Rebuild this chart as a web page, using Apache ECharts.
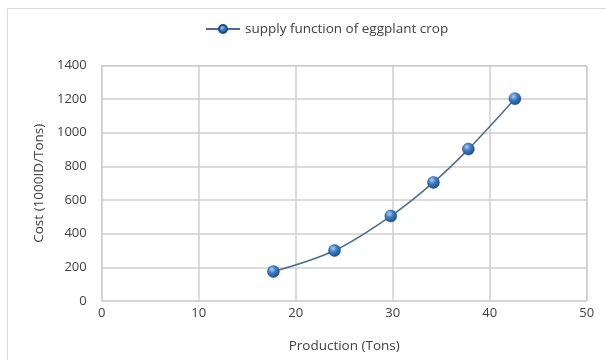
<!DOCTYPE html>
<html><head><meta charset="utf-8">
<script src="https://cdn.jsdelivr.net/npm/echarts@6/dist/echarts.min.js"></script>
<style>html,body{margin:0;padding:0;background:#fff}#c{width:606px;height:360px}</style>
</head><body><div id="c"></div>
<script>
var seriesName = 'supply function of eggplant crop';
var production = [17.7, 24.0, 29.8, 34.2, 37.8, 42.6];
var cost = [175, 300, 505, 705, 903, 1203];
var xTicks = [0, 10, 20, 30, 40, 50];
var yTicks = [0, 200, 400, 600, 800, 1000, 1200, 1400];

var chart = echarts.init(document.getElementById('c'), null, {renderer: 'canvas'});
var font = '"Open Sans", "Liberation Sans", sans-serif';
var ball = {
  type: 'radial', x: 0.38, y: 0.32, r: 0.7,
  colorStops: [{offset: 0, color: '#a9cdf2'}, {offset: 0.45, color: '#3a7cc4'}, {offset: 1, color: '#1d4c86'}]
};
chart.setOption({
  animation: false,
  graphic: [{type: 'rect', shape: {x: 7.5, y: 8.5, width: 610, height: 360}, style: {fill: 'none', stroke: '#d9d9d9', lineWidth: 1}, silent: true}],
  legend: {
    top: 17, left: 200, itemWidth: 34, itemHeight: 10, itemGap: 6,
    textStyle: {fontFamily: font, fontSize: 13.5, color: '#404040'},
    data: [seriesName]
  },
  grid: {left: 101.7, right: 19.3, top: 65.5, bottom: 59, show: true, borderColor: '#bfbfbf', borderWidth: 1},
  xAxis: {
    type: 'value', min: xTicks[0], max: xTicks[xTicks.length - 1], interval: 10,
    name: 'Production (Tons)', nameLocation: 'middle', nameGap: 38,
    nameTextStyle: {fontFamily: font, fontSize: 13.5, color: '#404040'},
    axisLine: {show: false}, axisTick: {show: false},
    axisLabel: {fontFamily: font, fontSize: 13, color: '#404040', margin: 6},
    splitLine: {lineStyle: {color: '#cfcfcf', width: 1.5}}
  },
  yAxis: {
    type: 'value', min: yTicks[0], max: yTicks[yTicks.length - 1], interval: 200,
    name: 'Cost (1000ID/Tons)', nameLocation: 'middle', nameGap: 53, nameRotate: 90,
    nameTextStyle: {fontFamily: font, fontSize: 13.5, color: '#404040'},
    axisLine: {show: false}, axisTick: {show: false},
    axisLabel: {fontFamily: font, fontSize: 13, color: '#404040', margin: 15, formatter: function (v) { return String(v); }},
    splitLine: {lineStyle: {color: '#cfcfcf', width: 1.5}}
  },
  series: [{
    name: seriesName, type: 'line', smooth: 0.35,
    data: production.map(function (p, i) { return [p, cost[i]]; }),
    symbol: 'circle', symbolSize: 12,
    lineStyle: {color: '#4d6b8f', width: 1.5},
    itemStyle: {color: ball, borderColor: '#1d4c86', borderWidth: 0.5}
  }]
});
</script></body></html>
